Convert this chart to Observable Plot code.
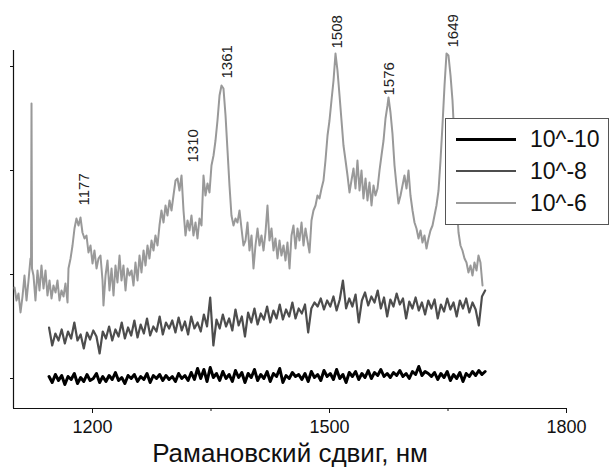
<!DOCTYPE html>
<html>
<head>
<meta charset="utf-8">
<script src="https://cdn.jsdelivr.net/npm/d3@7"></script>
<script src="https://cdn.jsdelivr.net/npm/@observablehq/plot@0.6"></script>
<style>
  html, body { margin: 0; padding: 0; background: white; }
  #wrap { position: relative; width: 609px; height: 470px; font-family: "Liberation Sans", Arial, sans-serif; }
  #legend { position: absolute; left: 445px; top: 118px; width: 162px; height: 105px; background: white; border: 1px solid #555; box-sizing: content-box; }
  .sw { position: absolute; left: 10px; width: 60px; }
  .lab { position: absolute; left: 84px; font-size: 23px; color: #111; white-space: nowrap; line-height: 1; }
</style>
</head>
<body>
<div id="wrap"></div>
<script>
// 10^-6 spectrum (wavenumber, intensity a.u.)
const conc6Wavenumber = [1101.3,1103.8,1106.3,1108.9,1111.4,1113.9,1116.5,1119.0,1121.5,1122.2,1122.8,1123.4,1125.3,1127.8,1130.4,1132.9,1135.4,1138.0,1140.5,1143.0,1145.6,1148.1,1150.6,1153.2,1155.7,1158.2,1160.8,1163.3,1165.8,1168.4,1169.6,1172.2,1174.7,1177.2,1179.7,1182.3,1184.8,1187.3,1189.9,1192.4,1194.9,1197.5,1200.0,1202.5,1205.1,1207.6,1210.1,1212.7,1213.9,1216.5,1219.0,1221.5,1224.1,1226.6,1229.1,1231.6,1234.2,1236.7,1239.2,1241.8,1244.3,1246.8,1249.4,1251.9,1254.4,1257.0,1259.5,1262.0,1264.6,1267.1,1269.6,1272.1,1274.7,1277.2,1279.7,1282.3,1284.8,1287.3,1289.9,1292.4,1294.9,1297.5,1300.0,1302.5,1305.1,1307.6,1310.1,1312.7,1315.2,1317.7,1320.3,1322.8,1325.3,1327.8,1330.4,1332.9,1335.4,1338.0,1340.5,1343.0,1345.6,1348.1,1350.6,1353.2,1355.7,1358.2,1360.8,1363.3,1365.8,1368.4,1370.9,1373.4,1375.9,1378.5,1381.0,1383.5,1386.1,1388.6,1391.1,1393.7,1396.2,1398.7,1401.3,1403.8,1406.3,1408.9,1411.4,1413.9,1416.5,1419.0,1421.5,1424.0,1426.6,1429.1,1431.6,1434.2,1436.7,1439.2,1441.8,1444.3,1446.8,1449.4,1451.9,1454.4,1457.0,1459.5,1462.0,1464.6,1467.1,1469.6,1472.1,1474.7,1477.2,1479.7,1482.3,1484.8,1487.3,1489.9,1492.4,1494.9,1497.5,1500.0,1502.5,1505.1,1507.6,1510.1,1512.7,1515.2,1517.7,1520.3,1522.8,1525.3,1527.8,1530.4,1532.9,1535.4,1538.0,1540.5,1543.0,1545.6,1548.1,1550.6,1553.2,1555.7,1558.2,1560.8,1563.3,1565.8,1568.4,1570.9,1573.4,1574.7,1577.2,1579.7,1582.3,1584.8,1587.3,1589.9,1592.4,1594.9,1597.5,1600.0,1602.5,1605.1,1607.6,1610.1,1612.7,1615.2,1617.7,1620.2,1622.8,1625.3,1627.8,1630.4,1632.9,1635.4,1638.0,1640.5,1643.0,1645.6,1648.1,1650.6,1653.2,1655.7,1658.2,1660.8,1663.3,1665.8,1668.3,1670.9,1673.4,1675.9,1678.5,1681.0,1683.5,1686.1,1688.6,1691.1,1693.7];
const conc6Intensity = [910,780,850,660,820,1030,780,980,1200,1150,2750,1100,1030,780,1080,880,1130,900,1080,830,980,800,930,860,980,780,880,820,950,760,1100,1200,1330,1500,1600,1530,1610,1460,1400,1430,1260,1330,1150,1280,1100,1200,1230,980,730,1030,1180,880,1100,830,1130,960,1230,980,1130,880,1100,1030,1080,930,1160,980,1230,1060,1280,1130,1330,1200,1380,1280,1430,1330,1530,1680,1560,1730,1630,1780,1680,1830,1980,2000,1880,2030,1680,1430,1580,1480,1630,1430,1560,1400,1600,1530,2030,1830,1950,1860,2130,2230,2380,2580,2830,2930,2900,2630,2280,1930,1630,1530,1600,1560,1680,1500,1330,1380,1560,1280,1430,1100,1330,1500,1330,1430,1280,1460,1730,1380,1500,1280,1400,1200,1380,1230,1330,1180,1360,1100,1430,1530,1300,1500,1380,1560,1330,1500,1380,1260,1580,1680,1730,1830,1800,1900,1980,2180,2430,2580,2780,2980,3250,3080,2830,2580,2330,2180,2030,1860,1980,2100,1900,2180,1880,2080,1800,2000,1780,1960,1730,1930,1830,1900,2080,2230,2380,2600,2730,2810,2660,2450,2130,1930,1750,1830,1930,2030,1900,2080,1830,1680,1560,1500,1400,1480,1360,1430,1300,1400,1480,1530,1630,1730,1880,2180,2530,2930,3250,3230,3030,2780,2380,1780,1460,1330,1280,1200,1160,1060,1130,1030,1160,1080,1230,1160,930];

// 10^-8 and 10^-10 spectra share one wavenumber grid
const gridWavenumber = [1145,1149,1153,1157,1161,1165,1169,1173,1177,1181,1185,1189,1193,1197,1201,1205,1209,1213,1217,1221,1225,1229,1233,1237,1241,1245,1249,1253,1257,1261,1265,1269,1273,1277,1281,1285,1289,1293,1297,1301,1305,1309,1313,1317,1321,1325,1329,1333,1337,1341,1345,1349,1353,1357,1361,1365,1369,1373,1377,1381,1385,1389,1393,1397,1401,1405,1409,1413,1417,1421,1425,1429,1433,1437,1441,1445,1449,1453,1457,1461,1465,1469,1473,1477,1481,1485,1489,1493,1497,1501,1505,1509,1513,1517,1521,1525,1529,1533,1537,1541,1545,1549,1553,1557,1561,1565,1569,1573,1577,1581,1585,1589,1593,1597,1601,1605,1609,1613,1617,1621,1625,1629,1633,1637,1641,1645,1649,1653,1657,1661,1665,1669,1673,1677,1681,1685,1689,1693,1697];
const conc8Intensity = [510,330,450,380,490,350,470,400,560,380,
440,300,460,390,480,420,250,470,400,520,
380,490,420,560,400,510,430,580,410,540,
450,600,430,520,470,620,440,560,500,580,
460,610,480,570,440,620,500,560,470,640,
520,810,330,590,500,640,520,600,480,690,
530,620,420,660,560,700,540,650,590,720,
560,680,600,740,590,690,620,760,600,700,
650,740,460,700,760,720,800,690,780,720,
820,680,790,980,700,800,720,840,560,780,
860,730,820,760,880,700,810,620,790,720,
850,740,800,600,770,700,810,680,760,640,
780,700,790,600,740,670,800,690,760,620,
780,700,800,660,760,690,530,820,880];
const conc10Intensity = [20,-40,40,-20,30,-60,20,-10,50,-50,
10,-30,40,-20,0,50,-40,20,-30,30,
-10,60,-20,10,-50,30,0,40,-30,20,
-10,50,-40,30,0,40,-20,30,-10,20,
-30,50,0,30,-20,60,-10,100,0,90,
-30,110,10,50,-20,70,0,40,-30,80,
10,60,-40,50,10,90,-20,40,0,70,
-30,50,20,100,-40,30,0,60,20,40,
-10,50,-30,70,10,40,-20,80,20,50,
-10,90,0,40,-40,60,20,70,-10,50,
10,80,0,60,30,90,20,50,10,60,
30,80,20,50,0,70,40,120,30,70,
50,20,60,-10,50,10,70,-20,40,0,
60,-30,50,20,70,30,80,40,70];

// Peak annotations
const peakLabels = ["1177","1310","1361","1508","1576","1649"];
const peakLabelX = [1189,1327,1370,1510,1575,1656];
const peakLabelY = [1730,2160,3000,3300,2830,3310];

const seriesNames = ["10^-10","10^-8","10^-6"];
const seriesColors = ["#000000","#4d4d4d","#999999"];
const seriesWidths = [3,2.2,2];

const xMajorTicks = [1200,1500,1800];
const xMinorTicks = [1350,1650];
const yTicks = [0,1040,2080,3120];
const xTitle = "Рамановский сдвиг, нм";

const d6 = conc6Wavenumber.map((x,i)=>({x, y: conc6Intensity[i]}));
const d8 = gridWavenumber.map((x,i)=>({x, y: conc8Intensity[i]}));
const d10 = gridWavenumber.map((x,i)=>({x, y: conc10Intensity[i]}));
const peaks = peakLabels.map((t,i)=>({t, x: peakLabelX[i], y: peakLabelY[i]}));

const xDom = [1100,1800], yDom = [-300,3280];

const chart = Plot.plot({
  width: 609, height: 470,
  marginLeft: 13, marginRight: 43, marginTop: 50, marginBottom: 62,
  x: {domain: xDom},
  y: {domain: yDom},
  style: {fontFamily: "Liberation Sans, Arial, sans-serif", fontSize: "18px", background: "white", color: "#111"},
  marks: [
    Plot.axisX({ticks: xMajorTicks, tickSize: 5, tickPadding: 7, tickFormat: "d", label: null, fontSize: 18}),
    Plot.axisX({ticks: xMinorTicks, tickSize: 3, tickFormat: () => "", label: null}),
    Plot.axisY({ticks: yTicks, tickSize: 3, tickFormat: () => "", label: null}),
    Plot.ruleX([xDom[0]], {y1: yDom[0], y2: yDom[1], stroke: "#111", strokeWidth: 1.2}),
    Plot.ruleY([yDom[0]], {x1: xDom[0], x2: xDom[1], stroke: "#111", strokeWidth: 1.2}),
    Plot.line(d10, {x: "x", y: "y", stroke: seriesColors[0], strokeWidth: seriesWidths[0]}),
    Plot.line(d8, {x: "x", y: "y", stroke: seriesColors[1], strokeWidth: seriesWidths[1]}),
    Plot.line(d6, {x: "x", y: "y", stroke: seriesColors[2], strokeWidth: seriesWidths[2]}),
    Plot.text(peaks, {x: "x", y: "y", text: "t", rotate: -90, textAnchor: "start", lineAnchor: "middle", fontSize: 15, fill: "#222"}),
    Plot.text([xTitle], {frameAnchor: "bottom", dy: 53, fontSize: 26, fill: "#111"})
  ]
});

const wrap = document.getElementById("wrap");
wrap.appendChild(chart);

const legend = document.createElement("div");
legend.id = "legend";
seriesNames.forEach((name, i) => {
  const cy = 20 + i * 32;
  const sw = document.createElement("div");
  sw.className = "sw";
  sw.style.top = (cy - seriesWidths[i] / 2) + "px";
  sw.style.height = seriesWidths[i] + "px";
  sw.style.background = seriesColors[i];
  const lab = document.createElement("div");
  lab.className = "lab";
  lab.textContent = name;
  lab.style.top = (cy - 11) + "px";
  legend.appendChild(sw);
  legend.appendChild(lab);
});
wrap.appendChild(legend);
</script>
</body>
</html>
